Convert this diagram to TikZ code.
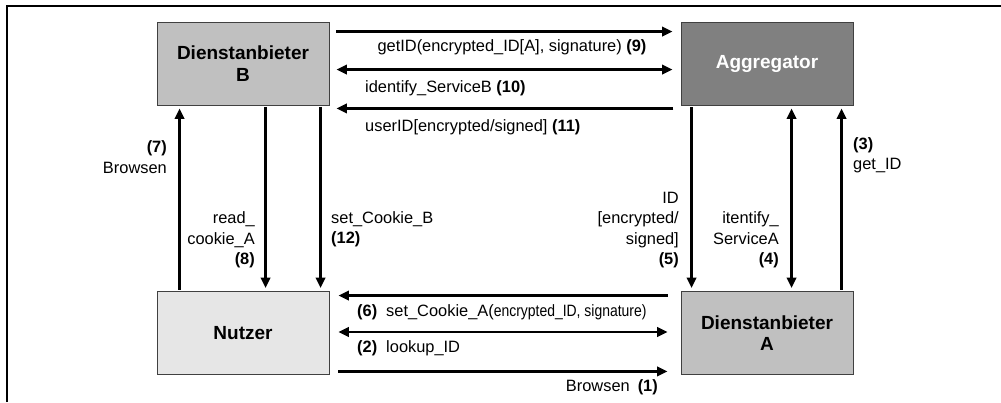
\documentclass[tikz,border=0pt]{standalone}
\usepackage{fontspec}
\setmainfont{Liberation Sans}
\usetikzlibrary{arrows.meta,calc}
\definecolor{boxmid}{HTML}{C0C0C0}
\definecolor{boxdark}{HTML}{808080}
\definecolor{boxlight}{HTML}{E6E6E6}
\definecolor{boxedge}{HTML}{404040}
\begin{document}
\begin{tikzpicture}[x=1pt,y=-1pt,
  entity/.style={draw=boxedge,line width=0.9pt,minimum width=172pt,minimum height=83pt,inner sep=0pt,
    align=center,font=\bfseries\fontsize{19}{21.5}\selectfont},
  arr/.style={line width=2.4pt,-{Triangle[length=10.5pt,width=9.5pt]}},
  darr/.style={line width=2.4pt,{Triangle[length=10.5pt,width=9.5pt]}-{Triangle[length=10.5pt,width=9.5pt]}},
  lbl/.style={inner sep=0pt,font=\fontsize{16.4}{20.3}\selectfont},
  lblr/.style={lbl,align=right,anchor=east},
  lbll/.style={lbl,align=left,anchor=west}]
\useasboundingbox (0,0) rectangle (1001,402);
\draw[line width=1.1pt] (7,402) -- (7,6) -- (1001,6);

\node[entity,fill=boxmid] (B) at (243,63.5) {Dienstanbieter\\B};
\node[entity,fill=boxdark,text=white] (Ag) at (767,63.5) {Aggregator};
\node[entity,fill=boxlight] (N) at (243,333) {Nutzer};
\node[entity,fill=boxmid] (DA) at (767,333) {Dienstanbieter\\A};

% top horizontal arrows
\draw[arr] ($(B.north east)+(7,10)$) -- ($(Ag.north west)+(-8,10)$);
\draw[darr] ($(B.north east)+(7,48)$) -- ($(Ag.north west)+(-8,48)$);
\draw[arr] ($(Ag.south east)+(-180,3)$) -- ($(B.south east)+(7,3)$);

% bottom horizontal arrows
\draw[arr] ($(DA.north west)+(-13,4.5)$) -- ($(N.north east)+(9,4.5)$);
\draw[darr] ($(N.east)+(9,-1)$) -- ($(DA.west)+(-13,-1)$);
\draw[arr] ($(N.south east)+(9,-3.5)$) -- ($(DA.south west)+(-13,-3.5)$);

% left vertical arrows
\draw[arr] ($(N.north west)+(23,-1.5)$) -- ($(B.south west)+(23,3)$);
\draw[arr] ($(B.south west)+(109,1.5)$) -- ($(N.north west)+(109,-3)$);
\draw[arr] ($(B.south west)+(164,1.5)$) -- ($(N.north west)+(164,-3)$);

% right vertical arrows
\draw[arr] ($(Ag.south west)+(11,1.5)$) -- ($(DA.north west)+(11,-3)$);
\draw[darr] ($(Ag.south west)+(111,3)$) -- ($(DA.north west)+(111,-3)$);
\draw[arr] ($(DA.north west)+(161,-1.5)$) -- ($(Ag.south west)+(161,3)$);

% labels
\node[lbl] (l9) at (512,47) {getID(encrypted\_ID[A], signature) \textbf{(9)}};
\node[lbll] (l10) at (365,88) {identify\_ServiceB \textbf{(10)}};
\node[lbll] (l11) at (365,127) {userID[encrypted/signed] \textbf{(11)}};
\node[lbll] (l6) at (357,312) {\textbf{(6)}\hspace{9pt}set\_Cookie\_A(\scalebox{0.85}[1]{encrypted\_ID, signature)}};
\node[lbll] (l2) at (357,348) {\textbf{(2)}\hspace{9pt}lookup\_ID};
\node[lbl,anchor=east] (l1) at (658,387) {Browsen\hspace{8pt}\textbf{(1)}};
\node[lblr] (l7) at (167,157) {\textbf{(7)}\\Browsen};
\node[lblr] (l8) at (255,240) {read\_\\cookie\_A\\\textbf{(8)}};
\node[lbll] (l12) at (331,229) {set\_Cookie\_B\\\textbf{(12)}};
\node[lblr] (l5) at (679,230) {ID\\{}[encrypted/\\signed]\\\textbf{(5)}};
\node[lblr] (l4) at (779,240) {itentify\_\\ServiceA\\\textbf{(4)}};
\node[lbll] (l3) at (853,155) {\textbf{(3)}\\get\_ID};
\end{tikzpicture}
\end{document}
